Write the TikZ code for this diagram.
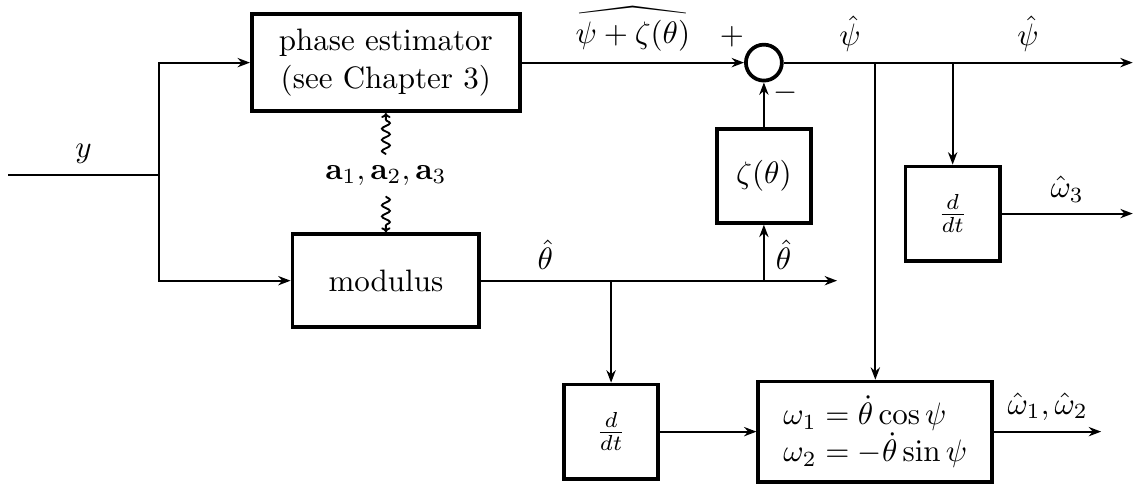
\documentclass[tikz,border=0pt]{standalone}
\usepackage{yhmath}
\usepackage{tikz}
\usetikzlibrary{positioning,arrows.meta,decorations.pathmorphing}

\begin{document}
\begin{tikzpicture}[
    box/.style={
        rectangle, draw=black, line width=1.2pt,
        minimum width=30.4pt, minimum height=30.4pt, align=center
    },
    sumnode/.style={
        circle, draw=black, line width=1.2pt, minimum size=11.6pt, inner sep=0pt
    },
    arrow/.style={-{Stealth[length=4pt,width=3pt]}, line width=0.6pt},
    line/.style={line width=0.6pt},
    wavy/.style={-{To[length=1.6pt,width=3pt]}, line width=0.6pt, decorate,
        decoration={snake, amplitude=1.3pt, segment length=3.6pt, post length=2pt}}
]
\useasboundingbox (-124.5pt,20.2pt) rectangle (242pt,-136pt);

\node[box, minimum width=86.5pt, minimum height=31.3pt] (phase) {phase estimator\\(see Chapter 3)};
\node[below=13.4pt of phase] (avec) {$\mathbf{a}_1,\mathbf{a}_2,\mathbf{a}_3$};
\node[box, minimum width=60.3pt, minimum height=30pt, below=38.5pt of phase] (modulus) {modulus};
\node[sumnode, right=71.7pt of phase,
      label={[inner sep=1pt]145:$+$},
      label={[inner sep=1pt, xshift=-2.6pt, yshift=-0.6pt]-45:$-$}] (sum) {};
\node[box, below=14.3pt of sum] (zeta) {$\zeta(\theta)$};

\coordinate[right=41.9pt of modulus.east] (tb);
\coordinate[right=114.8pt of modulus.east] (tend);
\node[box, below=32.9pt of tb] (ddtb) {$\frac{d}{dt}$};
\node[box, minimum width=75.5pt, minimum height=32.3pt, align=left, right=31.1pt of ddtb] (omega)
    {$\omega_1=\dot{\theta}\cos\psi$\\$\omega_2=-\dot{\theta}\sin\psi$};
\coordinate[right=34.5pt of omega.east] (oend);
\coordinate[right=54.5pt of sum.east] (pb);
\coordinate[right=112.6pt of sum.east] (pend);
\node[box, below=32.9pt of pb] (ddta) {$\frac{d}{dt}$};
\coordinate (in) at (-121.9pt,-36.3pt);
\coordinate (fork) at (-73.2pt,-36.3pt);

\draw[line] (in) -- node[above] {$y$} (fork);
\draw[arrow] (fork) |- (phase.west);
\draw[arrow] (fork) |- (modulus.west);
\draw[wavy] (avec.north) -- (phase.south);
\draw[wavy] (avec.south) -- (modulus.north);
\draw[arrow] (phase.east) -- node[above] {$\widehat{\psi+\zeta(\theta)}$} (sum.west);
\draw[arrow] (modulus.east) -- node[above, pos=0.18] {$\hat{\theta}$} node[above, pos=0.85] {$\hat{\theta}$} (tend);
\draw[arrow] (zeta.south |- tend) -- (zeta.south);
\draw[arrow] (zeta) -- (sum);
\draw[arrow] (tb) -- (ddtb);
\draw[arrow] (ddtb) -- (omega);
\draw[arrow] (omega) -- node[above] {$\hat{\omega}_1,\hat{\omega}_2$} (oend);
\draw[arrow] (sum.east) -- node[above, pos=0.19] {$\hat{\psi}$} node[above, pos=0.7] {$\hat{\psi}$} (pend);
\draw[arrow] (omega.north |- sum.east) -- (omega.north);
\draw[arrow] (pb) -- (ddta);
\draw[arrow] (ddta) -- node[above] {$\hat{\omega}_3$} (ddta.east -| pend);
\end{tikzpicture}
\end{document}
